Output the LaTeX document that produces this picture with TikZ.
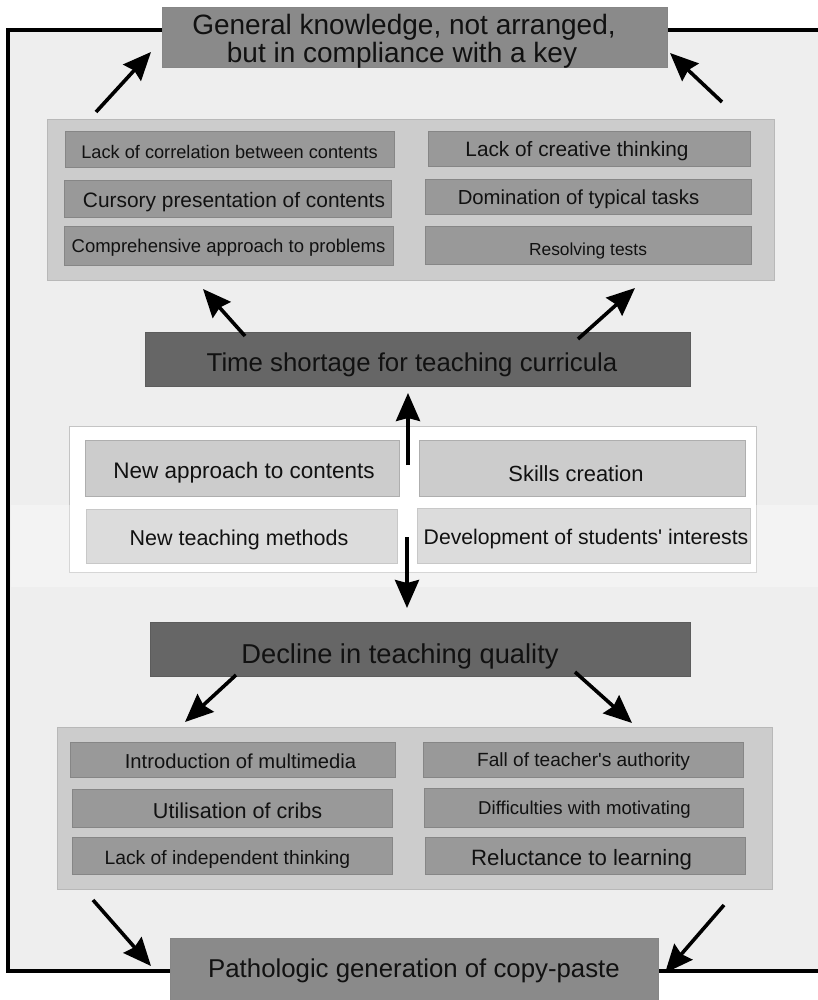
\documentclass[tikz,border=0pt]{standalone}
\usepackage{fontspec}
\setmainfont{Liberation Sans}[Ligatures=TeXOff]
\usetikzlibrary{arrows.meta,fit}
\newcommand\fsz[1]{\fontsize{#1}{#1}\selectfont}
\definecolor{bg}{HTML}{EEEEEE}
\definecolor{panel}{HTML}{CCCCCC}
\definecolor{panelline}{HTML}{B8B8B8}
\definecolor{item}{HTML}{999999}
\definecolor{itemline}{HTML}{868686}
\definecolor{keyfill}{HTML}{8A8A8A}
\definecolor{darkfill}{HTML}{666666}
\definecolor{midline}{HTML}{C4C4C4}
\definecolor{midbox}{HTML}{CCCCCC}
\definecolor{midboxline}{HTML}{AEAEAE}
\definecolor{ink}{HTML}{111111}
\begin{document}
\begin{tikzpicture}[x=1pt,y=-1pt,
  panelbox/.style={fill=panel, draw=panelline, line width=1pt, inner sep=0pt},
  whitepanel/.style={fill=white, draw=midline, line width=1pt, inner sep=0pt},
  itembox/.style={fill=item, draw=itemline, line width=1pt, inner sep=0pt},
  midbox/.style={fill=midbox, draw=midboxline, line width=1pt, inner sep=0pt},
  keybox/.style={fill=keyfill, draw=itemline, line width=1pt, inner sep=0pt},
  darkbox/.style={fill=darkfill, draw=darkfill!90!black, line width=1pt, inner sep=0pt},
  txt/.style={inner sep=0pt, anchor=mid, text=ink, font=\fsz{#1}, yshift={-0.25*#1}},
  arr/.style={line width=3.6pt, draw=black, -{Stealth[length=28pt,width=24pt,inset=3pt]}},
]
\useasboundingbox (0,0) rectangle (818,1000);
\clip (0,0) rectangle (818,1000);

% frame and background
\fill[bg] (8,30) rectangle (840,971);
\draw[line width=3.6pt] (840,30) -- (8,30) -- (8,971) -- (840,971);

% top and bottom key boxes
\node[keybox, fit={(162,8) (667,68)}] (top) {};
\node[keybox, fit={(170,938) (658,1010)}] (bottom) {};

% upper panel
\node[panelbox, fit={(47,120) (774,280)}] (upanel) {};
\node[itembox, fit={(65,132) (394,168)}] (u1) {};
\node[itembox, fit={(64,181) (391,218)}] (u2) {};
\node[itembox, fit={(64,227) (393,265)}] (u3) {};
\node[itembox, fit={(428,132) (750,167)}] (u4) {};
\node[itembox, fit={(425,180) (751,215)}] (u5) {};
\node[itembox, fit={(425,227) (751,264)}] (u6) {};

% time shortage
\node[darkbox, fit={(145,332) (690,386)}] (time) {};

% middle panel
\node[whitepanel, fit={(69,426) (756,572)}] (mpanel) {};
\node[midbox, fit={(85,440) (399,496)}] (m1) {};
\node[midbox, fit={(419,440) (745,496)}] (m2) {};
\node[midbox, fit={(86,509) (397,563)}] (m3) {};
\node[midbox, fit={(417,508) (750,563)}] (m4) {};

% decline
\node[darkbox, fit={(150,622) (690,676)}] (decline) {};

% lower panel
\node[panelbox, fit={(57,727) (772,889)}] (lpanel) {};
\node[itembox, fit={(70,742) (395,777)}] (l1) {};
\node[itembox, fit={(423,742) (743,777)}] (l2) {};
\node[itembox, fit={(72,789) (392,827)}] (l3) {};
\node[itembox, fit={(424,788) (743,827)}] (l4) {};
\node[itembox, fit={(72,837) (392,874)}] (l5) {};
\node[itembox, fit={(425,837) (745,874)}] (l6) {};

% light band
\fill[white, opacity=0.32] (10.5,505) rectangle (818,587);

% texts
\node[txt=28] (topa) at (404,25) {General knowledge, not arranged,};
\node[txt=28] (topb) at (402,53) {but in compliance with a key};

\node[txt=18.2] (tu1) at (229.5,151) {Lack of correlation between contents};
\node[txt=20.9] (tu2) at (234,200) {Cursory presentation of contents};
\node[txt=18.5] (tu3) at (228.5,245) {Comprehensive approach to problems};
\node[txt=20.8] (tu4) at (577,149) {Lack of creative thinking};
\node[txt=20.3] (tu5) at (578.5,197) {Domination of typical tasks};
\node[txt=17.4] (tu6) at (588,249) {Resolving tests};

\node[txt=25.8] (ttime) at (412,362) {Time shortage for teaching curricula};

\node[txt=22.5] (tm1) at (244,470) {New approach to contents};
\node[txt=21.9] (tm2) at (576,473) {Skills creation};
\node[txt=21.5] (tm3) at (239,537) {New teaching methods};
\node[txt=21.2] (tm4) at (586,537) {Development of students' interests};

\node[txt=27.3] (tdecl) at (400,654) {Decline in teaching quality};

\node[txt=20.2] (tl1) at (240.5,761) {Introduction of multimedia};
\node[txt=19.1] (tl2) at (583.5,759) {Fall of teacher's authority};
\node[txt=21.6] (tl3) at (237.6,810) {Utilisation of cribs};
\node[txt=18.6] (tl4) at (584.5,807) {Difficulties with motivating};
\node[txt=19.3] (tl5) at (227.4,857) {Lack of independent thinking};
\node[txt=22.2] (tl6) at (581.6,857) {Reluctance to learning};

\node[txt=25.8] (tbot) at (414,968) {Pathologic generation of copy-paste};

% arrow end points
\coordinate (a1s) at (96,112);  \coordinate (a1e) at (151,52);
\coordinate (a2s) at (722,102); \coordinate (a2e) at (670,53);
\coordinate (a3s) at (245,336); \coordinate (a3e) at (203,289);
\coordinate (a4s) at (578,339); \coordinate (a4e) at (635,288);
\coordinate (a5s) at (408,465); \coordinate (a5e) at (408,393);
\coordinate (a6s) at (407,537); \coordinate (a6e) at (407,608);
\coordinate (a7s) at (236,675); \coordinate (a7e) at (185,722);
\coordinate (a8s) at (575,672); \coordinate (a8e) at (632,723);
\coordinate (a9s) at (93,900);  \coordinate (a9e) at (151,966);
\coordinate (a10s) at (724,905); \coordinate (a10e) at (665,973);

\foreach \i in {1,...,10} \draw[arr] (a\i s) -- (a\i e);
\end{tikzpicture}
\end{document}
